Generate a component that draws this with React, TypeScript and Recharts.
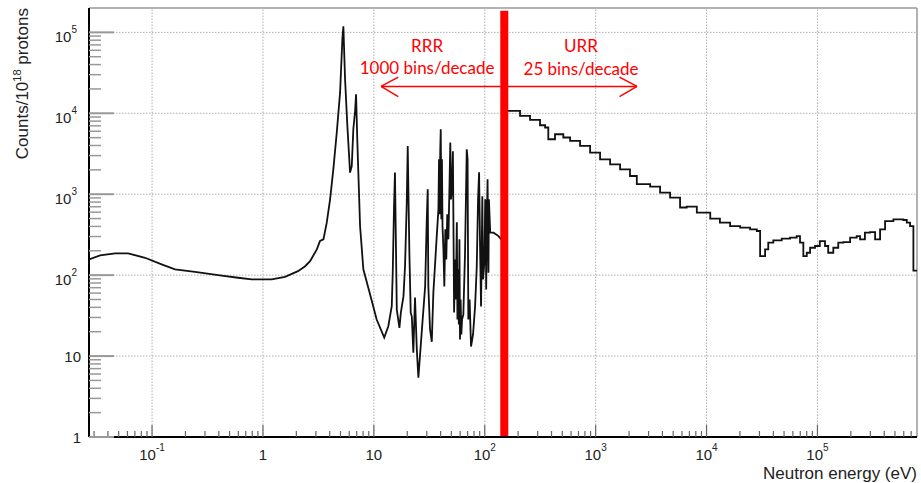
import React from "react";
import { ComposedChart, Line, XAxis, YAxis, ReferenceLine, ReferenceDot } from "recharts";

// thermal part, below the first resonance (eV / counts per 1e18 protons)
const thermalEnergy = [0.027, 0.034, 0.0464, 0.0608, 0.0865, 0.122, 0.161, 0.244, 0.394, 0.596, 0.793, 1.2, 1.58, 2.07, 2.4, 2.66];
const thermalCounts = [156, 175, 186, 186, 164, 136, 118, 110, 100, 92.9, 88.5, 88.5, 95.5, 112, 129, 149];

// the big doublet around 5-7 eV
const doubletEnergy = [3.06, 3.27, 3.51, 3.76, 4.03, 4.31, 4.63, 4.96, 5.2, 5.31, 5.5, 5.77, 6.1, 6.32, 6.53, 6.77, 6.91, 7.1, 7.51, 8.04, 9.25];
const doubletCounts = [208, 264, 277, 445, 865, 2030, 5790, 18100, 82600, 118600, 26400, 6980, 1850, 2230, 6360, 10600, 17200, 4350, 404, 118, 57.7];

// resolved resonances 10-34 eV
const resLowEnergy = [10.6, 12.4, 13.5, 14.5, 14.8, 15.2, 15.5, 16.1, 17.0, 17.5, 18.5, 19.1, 19.8, 20.2, 20.9, 21.5, 22.0, 22.3, 22.7, 23.5, 24.4, 25.2, 27.0, 29.0, 30.0, 30.6, 31.0, 32.1, 33.3];
const resLowCounts = [28.3, 16.9, 23.4, 41.3, 108, 714, 1850, 37.6, 22.3, 34.2, 55, 129, 787, 3950, 191, 34.2, 30.8, 19.5, 11.0, 53, 12.0, 5.42, 19.5, 72.5, 489, 1150, 72.5, 21.3, 15.0];

// resolved resonances 34-150 eV
const resHighEnergy = [
  34.4, 36.9, 38.2, 38.7, 39.1, 39.7, 40.1, 40.6, 41.1, 41.6, 42.4, 43.2, 44.1, 45.0, 45.9, 47.0, 48.2, 48.9, 49.6, 50.6,
  51.6, 52.3, 52.9, 54.0, 54.8, 56.0, 56.7, 57.5, 58.4, 59.1, 59.8, 60.6, 61.5, 62.4, 64.1, 66.4, 68.8, 70.0, 71.1, 73.0,
  75.2, 78.4, 81.8, 84.7, 87.0, 88.9, 90.7, 92.6, 95.1, 96.5, 99.2, 101, 102, 103, 105, 106, 108, 109, 112, 120,
  133, 143, 150,
];
const resHighCounts = [
  61.1, 301, 650, 2700, 564, 3590, 6360, 489, 2700, 401, 208, 72.5, 368, 156, 564, 277, 1530, 4350, 865, 1200,
  3400, 300, 34.5, 156, 50, 449, 28.3, 118, 24.5, 277, 16.0, 50, 18.5, 28.3, 32.6, 189, 3590, 2700, 28.3, 50,
  13.1, 18.5, 41.0, 128, 865, 1870, 227, 41.0, 942, 88.5, 142, 865, 794, 66.5, 650, 1530, 107, 865, 338, 335,
  304, 269, 260,
];

// unresolved region, histogram bins (left edges)
const urrLowEnergy = [150, 208, 256, 315, 350, 374, 430, 511, 588, 723, 891, 1096, 1350, 1660, 2040, 2350, 3100, 3810, 4690, 5770, 6620, 8170];
const urrLowCounts = [10700, 9290, 8280, 7120, 6670, 4780, 5510, 5020, 4550, 3950, 3270, 2700, 2340, 2030, 1680, 1330, 1240, 1047, 908, 685, 703, 592];
const urrHighEnergy = [10800, 13200, 16300, 20100, 24700, 28400, 30400, 33700, 36000, 40000, 47600, 56600, 65000, 69600, 74600, 80100, 85800, 95100, 105000, 117000, 125000, 139000, 154000, 171000, 197000, 226000, 242000, 268000, 298000, 331000, 367000, 407000, 484000, 595000, 639000, 684000, 733000, 790000];
const urrHighCounts = [499, 445, 404, 386, 368, 351, 172, 208, 252, 269, 282, 290, 304, 252, 172, 189, 218, 229, 264, 229, 189, 218, 252, 256, 290, 304, 277, 335, 341, 277, 368, 466, 489, 480, 445, 404, 114, 114];

const xMajorTicks = [0.1, 1, 10, 100, 1e3, 1e4, 1e5];
const xTickLabels = ["10^-1", "1", "10", "10^2", "10^3", "10^4", "10^5"];
const yMajorTicks = [1, 10, 100, 1e3, 1e4, 1e5];
const yTickLabels = ["1", "10", "10^2", "10^3", "10^4", "10^5"];

const X_DOMAIN = [0.027, 7.9e5];
const Y_DOMAIN = [1, 2e5];
const RED = "#ff0000";
const FONT = "'Liberation Sans', Arial, sans-serif";

const zip = (e: number[], c: number[]) => e.map((v, i) => ({ e: v, c: c[i] }));
const rrrData = [
  ...zip(thermalEnergy, thermalCounts),
  ...zip(doubletEnergy, doubletCounts),
  ...zip(resLowEnergy, resLowCounts),
  ...zip(resHighEnergy, resHighCounts),
];
const urrData = [...zip(urrLowEnergy, urrLowCounts), ...zip(urrHighEnergy, urrHighCounts)];

// minor ticks 2..9 in each decade
const withMinor = (majors: number[], lo: number, hi: number) => {
  const out: number[] = [];
  for (const m of [majors[0] / 10, ...majors]) {
    for (let k = 1; k <= 9; k++) {
      const v = m * k;
      if (v >= lo && v <= hi) out.push(v);
    }
  }
  return out;
};
const xTicks = withMinor(xMajorTicks, X_DOMAIN[0], X_DOMAIN[1]);
const yTicks = withMinor(yMajorTicks, Y_DOMAIN[0], 1.5e5);

const majorIndex = (list: number[], v: number) => list.findIndex((t) => Math.abs(t - v) / t < 1e-6);

const PowerText = ({ x, y, label, anchor }: any) => {
  const [base, exp] = label.split("^");
  return (
    <text x={x} y={y} textAnchor={anchor} fontFamily={FONT} fontSize={15} fill="#222">
      {base}
      {exp && (
        <tspan dy={-9} fontSize={10}>
          {exp}
        </tspan>
      )}
    </text>
  );
};

const XTick = (props: any) => {
  const { x, y, payload } = props;
  const idx = majorIndex(xMajorTicks, payload.value);
  const major = idx >= 0;
  return (
    <g>
      <line x1={x} x2={x} y1={y} y2={y - (major ? 12 : 6)} stroke="#666" strokeWidth={1.2} />
      {major && <PowerText x={x} y={y + 23} label={xTickLabels[idx]} anchor="middle" />}
    </g>
  );
};

const YTick = (props: any) => {
  const { x, y, payload } = props;
  const idx = majorIndex(yMajorTicks, payload.value);
  const major = idx >= 0;
  const label = major ? yTickLabels[idx] : "";
  const hasExp = label.includes("^");
  return (
    <g>
      <line x1={x} x2={x + (major ? 25 : 12)} y1={y} y2={y} stroke="#999" strokeWidth={major ? 2 : 1.5} />
      {major && <PowerText x={x - (hasExp ? 12 : 8)} y={y + (hasExp ? 9.5 : 5.5)} label={label} anchor="end" />}
    </g>
  );
};

const YLabel = () => (
  <text transform="translate(28, 8) rotate(-90)" textAnchor="end" fontFamily={FONT} fontSize={17} fill="#222">
    Counts/10
    <tspan dy={-7} fontSize={11}>
      18
    </tspan>
    <tspan dy={7}> protons</tspan>
  </text>
);

const XLabel = () => (
  <text x={917} y={479} textAnchor="end" fontFamily={FONT} fontSize={17} fill="#222">
    Neutron energy (eV)
  </text>
);

const redText = (text: string) => (p: any) => (
  <text x={p.cx} y={p.cy} textAnchor="middle" fontFamily="Lato, 'Open Sans', sans-serif" fontSize={17} fill={RED}>
    {text}
  </text>
);

export default function App() {
  return (
    <div style={{ position: "absolute", left: 0, top: 0, background: "#fff" }}>
      <ComposedChart width={921} height={483} margin={{ top: 8, right: 4, bottom: 0, left: 0 }}>
        <XAxis
          dataKey="e"
          type="number"
          scale="log"
          domain={X_DOMAIN}
          allowDataOverflow
          ticks={xTicks}
          interval={0}
          tickSize={0}
          tickMargin={0}
          tick={<XTick />}
          tickLine={false}
          axisLine={{ stroke: "#000", strokeWidth: 2 }}
          height={46}
          label={<XLabel />}
        />
        <YAxis
          type="number"
          scale="log"
          domain={Y_DOMAIN}
          allowDataOverflow
          ticks={yTicks}
          interval={0}
          tickSize={0}
          tickMargin={0}
          tick={<YTick />}
          tickLine={false}
          axisLine={{ stroke: "#000", strokeWidth: 2 }}
          width={89}
          label={<YLabel />}
        />
        {xMajorTicks.map((v) => (
          <ReferenceLine key={"gx" + v} x={v} stroke="#b0b0b0" strokeDasharray="1.5 1.5" />
        ))}
        {yMajorTicks.slice(1).map((v) => (
          <ReferenceLine key={"gy" + v} y={v} stroke="#b0b0b0" strokeDasharray="1.5 1.5" />
        ))}
        <ReferenceLine y={Y_DOMAIN[1]} stroke="#999" strokeWidth={1.5} />
        <ReferenceLine x={X_DOMAIN[1]} stroke="#999" strokeWidth={1.5} />
        <Line data={rrrData} dataKey="c" type="linear" stroke="#111" strokeWidth={1.8} dot={false} isAnimationActive={false} />
        <Line data={urrData} dataKey="c" type="stepAfter" stroke="#111" strokeWidth={1.8} dot={false} isAnimationActive={false} />
        <ReferenceLine segment={[{ x: 150, y: 1 }, { x: 150, y: 1.85e5 }]} stroke={RED} strokeWidth={8} />
        <ReferenceLine segment={[{ x: 11.6, y: 21500 }, { x: 2360, y: 21500 }]} stroke={RED} strokeWidth={1.5} />
        <ReferenceLine segment={[{ x: 11.6, y: 21500 }, { x: 16.6, y: 28000 }]} stroke={RED} strokeWidth={1.5} />
        <ReferenceLine segment={[{ x: 11.6, y: 21500 }, { x: 16.6, y: 16100 }]} stroke={RED} strokeWidth={1.5} />
        <ReferenceLine segment={[{ x: 2360, y: 21500 }, { x: 1640, y: 28000 }]} stroke={RED} strokeWidth={1.5} />
        <ReferenceLine segment={[{ x: 2360, y: 21500 }, { x: 1640, y: 16100 }]} stroke={RED} strokeWidth={1.5} />
        <ReferenceDot x={30.2} y={57000} r={0} shape={redText("RRR")} />
        <ReferenceDot x={30.2} y={30900} r={0} shape={redText("1000 bins/decade")} />
        <ReferenceDot x={738} y={57000} r={0} shape={redText("URR")} />
        <ReferenceDot x={738} y={29600} r={0} shape={redText("25 bins/decade")} />
      </ComposedChart>
    </div>
  );
}
